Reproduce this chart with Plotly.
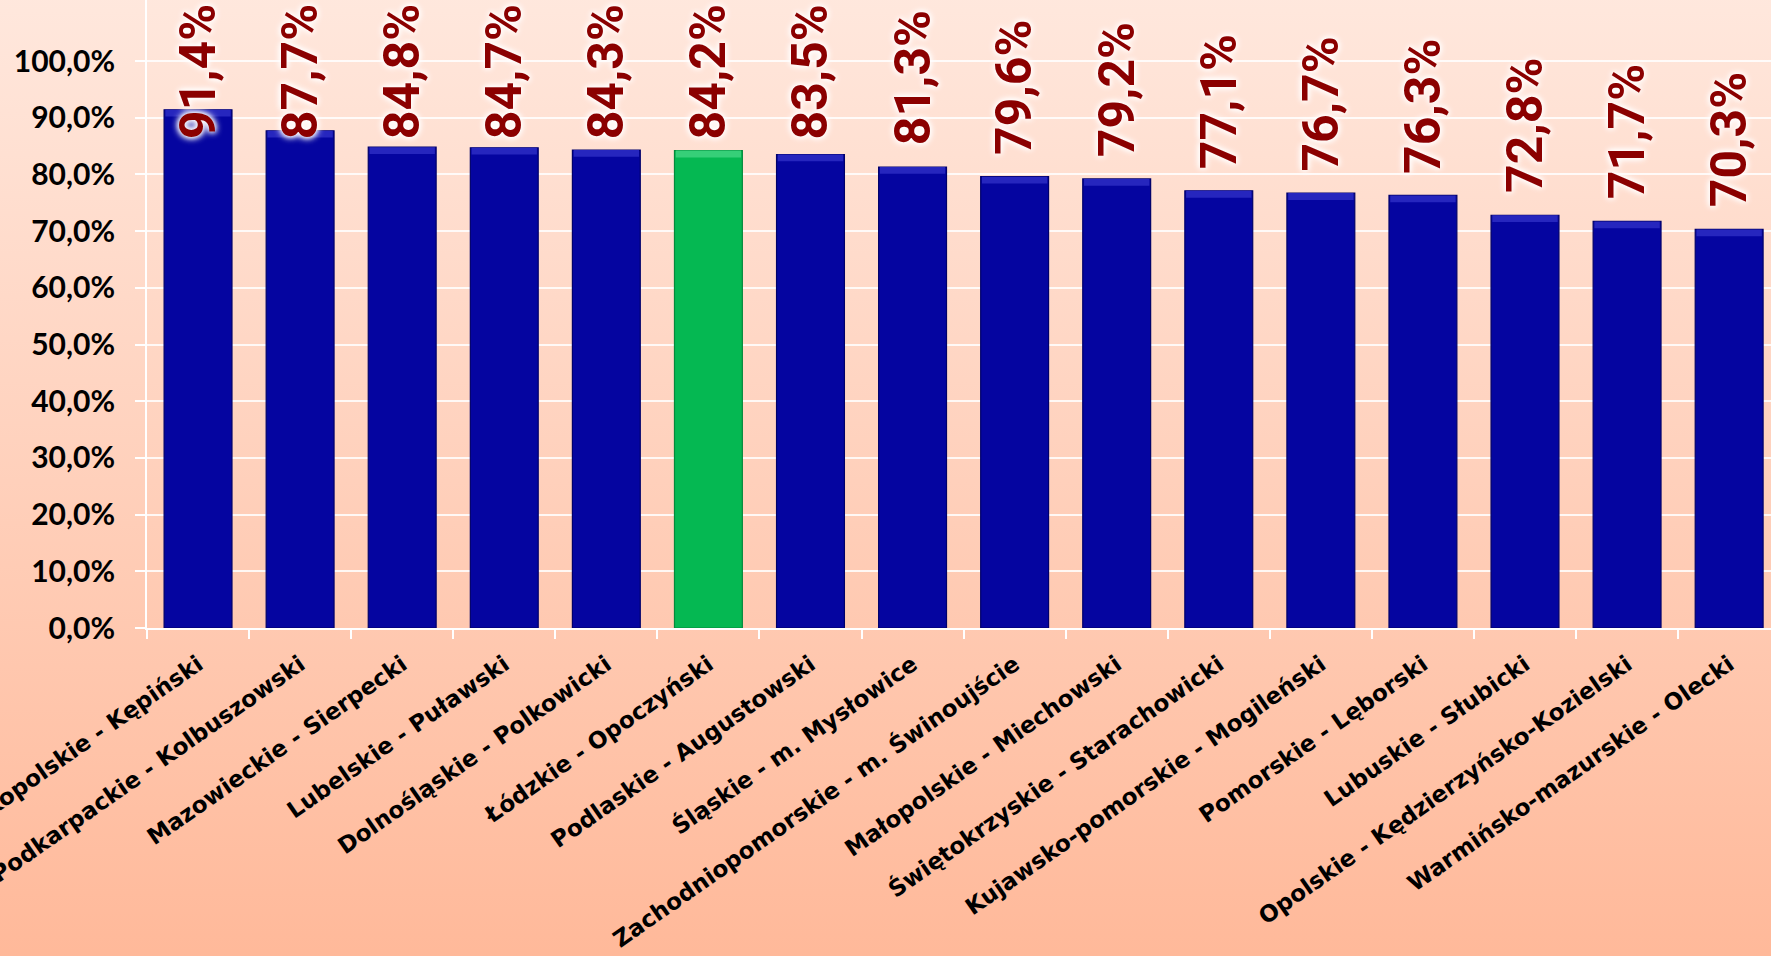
import base64
import plotly.graph_objects as go

# ---------------- data ----------------
categories = [
    "Wielkopolskie - Kępiński",
    "Podkarpackie - Kolbuszowski",
    "Mazowieckie - Sierpecki",
    "Lubelskie - Puławski",
    "Dolnośląskie - Polkowicki",
    "Łódzkie - Opoczyński",
    "Podlaskie - Augustowski",
    "Śląskie - m. Mysłowice",
    "Zachodniopomorskie - m. Świnoujście",
    "Małopolskie - Miechowski",
    "Świętokrzyskie - Starachowicki",
    "Kujawsko-pomorskie - Mogileński",
    "Pomorskie - Lęborski",
    "Lubuskie - Słubicki",
    "Opolskie - Kędzierzyńsko-Kozielski",
    "Warmińsko-mazurskie - Olecki",
]
values = [0.914, 0.877, 0.848, 0.847, 0.843, 0.842, 0.835, 0.813,
          0.796, 0.792, 0.771, 0.767, 0.763, 0.728, 0.717, 0.703]
highlight = "Łódzkie - Opoczyński"
y_tickvals = [0.0, 0.1, 0.2, 0.3, 0.4, 0.5, 0.6, 0.7, 0.8, 0.9, 1.0]

# ---------------- style ----------------
BLUE = "#0505A0"
BLUE_EDGE = "#00006A"
BLUE_BEVEL = "#2626BE"
GREEN = "#05B852"
GREEN_EDGE = "#038A3C"
GREEN_BEVEL = "#36CF78"
LABEL_RED = "#8B0000"
GLOW = "0px 0px 5px #ffffff, 0px 0px 7px #ffffff, 0px 0px 9px #ffffff"

fill = [GREEN if c == highlight else BLUE for c in categories]
edge = [GREEN_EDGE if c == highlight else BLUE_EDGE for c in categories]
bevel = [GREEN_BEVEL if c == highlight else BLUE_BEVEL for c in categories]

BEVEL_H = 0.012
bevel_base = [v - BEVEL_H for v in values]
bevel_h = [BEVEL_H] * len(values)

svg = (
    '<svg xmlns="http://www.w3.org/2000/svg" width="100" height="100" preserveAspectRatio="none">'
    '<defs><linearGradient id="g" x1="0" y1="0" x2="0" y2="1">'
    '<stop offset="0" stop-color="#FFE9DF"/>'
    '<stop offset="1" stop-color="#FFB594"/>'
    '</linearGradient></defs>'
    '<rect width="100" height="100" fill="url(#g)"/></svg>'
)
bg_uri = "data:image/svg+xml;base64," + base64.b64encode(svg.encode()).decode()

fig = go.Figure()
fig.add_trace(go.Bar(
    x=categories, y=values, width=0.665,
    marker=dict(color=fill, line=dict(color=edge, width=1.2)),
    hoverinfo="skip",
))
fig.add_trace(go.Bar(
    x=categories, y=bevel_h, base=bevel_base, width=0.64,
    marker=dict(color=bevel, line=dict(width=0)),
    hoverinfo="skip",
))

# data labels: rotated, above the bar, kept inside the top of the chart
LABEL_GAP = 0.035
LABEL_CAP = 0.858
for c, v in zip(categories, values):
    txt = f"{v * 100:.1f}%".replace(".", ",")
    fig.add_annotation(
        x=c, y=min(v + LABEL_GAP, LABEL_CAP), xref="x", yref="y",
        text=txt, showarrow=False, textangle=-90,
        xanchor="center", yanchor="bottom",
        font=dict(family="Roboto", size=50, color=LABEL_RED, weight=700, shadow=GLOW),
    )

fig.add_layout_image(dict(
    source=bg_uri, xref="paper", yref="paper",
    x=-0.2, y=1.05, sizex=1.4, sizey=1.7,
    sizing="stretch", layer="below", xanchor="left", yanchor="top",
))

fig.update_layout(
    width=1771, height=956,
    margin=dict(l=147, r=0, t=0, b=328, pad=0, autoexpand=False),
    paper_bgcolor="#FFCFBA",
    plot_bgcolor="rgba(0,0,0,0)",
    barmode="overlay",
    showlegend=False,
    separators=",.",
    font=dict(family="Lato", color="black"),
)
fig.update_xaxes(
    automargin=False,
    range=[-0.5, 15.41],
    tickson="boundaries",
    ticks="outside", ticklen=9, tickwidth=2, tickcolor="white",
    showline=True, linecolor="white", linewidth=2,
    showgrid=False,
    tickangle=-35,
    ticklabelstandoff=12,
    tickfont=dict(family="DejaVu Sans", size=23, color="black", weight=700),
)
fig.update_yaxes(
    automargin=False,
    range=[0, 1.1076],
    tickvals=y_tickvals, tickformat=".1%",
    ticks="outside", ticklen=10, tickwidth=2, tickcolor="white",
    showline=True, linecolor="white", linewidth=2,
    showgrid=True, gridcolor="rgba(255,255,255,0.85)", gridwidth=2,
    zeroline=False,
    ticklabelstandoff=14,
    tickfont=dict(family="Lato", size=30, color="black", weight=700),
)

fig.write_html(
    "out.html",
    config={"displayModeBar": False},
    post_script="document.body.style.margin='0px';document.body.style.overflow='hidden';",
)
